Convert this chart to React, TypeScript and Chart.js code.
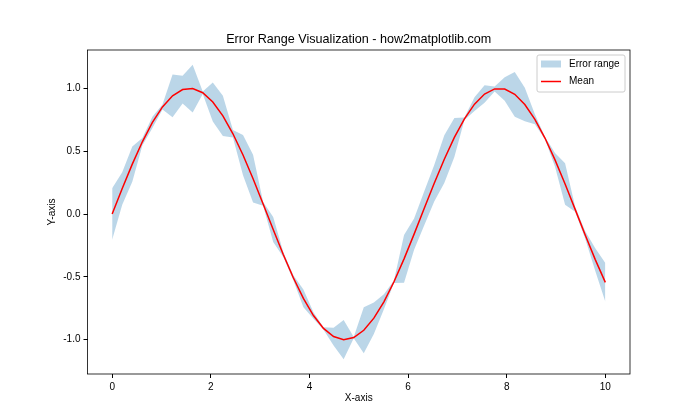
import React, { useEffect, useRef } from "react";
import { Chart, registerables } from "chart.js";

Chart.register(...registerables);

const xValues = [
  0, 0.2041, 0.4082, 0.6122, 0.8163, 1.0204, 1.2245, 1.4286, 1.6327, 1.8367,
  2.0408, 2.2449, 2.449, 2.6531, 2.8571, 3.0612, 3.2653, 3.4694, 3.6735, 3.8776,
  4.0816, 4.2857, 4.4898, 4.6939, 4.898, 5.102, 5.3061, 5.5102, 5.7143, 5.9184,
  6.1224, 6.3265, 6.5306, 6.7347, 6.9388, 7.1429, 7.3469, 7.551, 7.7551, 7.9592,
  8.1633, 8.3673, 8.5714, 8.7755, 8.9796, 9.1837, 9.3878, 9.5918, 9.7959, 10,
];

const meanValues = [
  0, 0.2027, 0.3969, 0.5747, 0.7286, 0.8523, 0.9406, 0.9899, 0.9981, 0.9649,
  0.8916, 0.7813, 0.6385, 0.4693, 0.2806, 0.0803, -0.1234, -0.322, -0.5072, -0.6714,
  -0.8076, -0.9103, -0.9753, -0.9998, -0.9828, -0.925, -0.8289, -0.6983, -0.5387, -0.3568,
  -0.16, 0.0433, 0.2449, 0.4363, 0.6096, 0.7576, 0.8742, 0.9545, 0.9951, 0.9945,
  0.9526, 0.8711, 0.7535, 0.6046, 0.4306, 0.2388, 0.037, -0.1663, -0.3627, -0.544,
];

const errorValues = [
  0.205, 0.13, 0.14, 0.03, 0.045, 0.02, 0.17, 0.11, 0.19, 0.01,
  0.155, 0.16, 0.03, 0.16, 0.19, 0.015, 0.1, 0.02, 0.02, 0.07,
  0.025, 0.01, 0.07, 0.156, 0.005, 0.183, 0.125, 0.06, 0.01, 0.19,
  0.125, 0.135, 0.145, 0.19, 0.155, 0.01, 0.055, 0.07, 0.02, 0.093,
  0.178, 0.133, 0.04, 0.01, 0.055, 0.166, 0.02, 0.03, 0.09, 0.155,
];

const xTicks = [0, 2, 4, 6, 8, 10];
const yTicks = [-1.0, -0.5, 0.0, 0.5, 1.0];

const titleText = "Error Range Visualization - how2matplotlib.com";
const xLabel = "X-axis";
const yLabel = "Y-axis";
const bandLabel = "Error range";
const meanLabel = "Mean";

const FONT = "'Liberation Sans', 'DejaVu Sans', sans-serif";
const BAND_COLOR = "rgba(31,119,180,0.3)";

export default function App() {
  const ref = useRef<HTMLCanvasElement | null>(null);

  useEffect(() => {
    if (!ref.current) return;
    const lower = xValues.map((x, i) => ({ x, y: meanValues[i] - errorValues[i] }));
    const upper = xValues.map((x, i) => ({ x, y: meanValues[i] + errorValues[i] }));
    const mean = xValues.map((x, i) => ({ x, y: meanValues[i] }));

    const decor = {
      id: "decor",
      afterDraw(chart: any) {
        const { ctx, chartArea } = chart;
        const { left, right, top, bottom } = chartArea;
        ctx.save();
        // frame
        ctx.strokeStyle = "#000";
        ctx.lineWidth = 0.8;
        ctx.strokeRect(left, top, right - left, bottom - top);
        // title
        ctx.fillStyle = "#000";
        ctx.font = `12.6px ${FONT}`;
        ctx.textAlign = "center";
        ctx.textBaseline = "middle";
        ctx.fillText(titleText, (left + right) / 2, 40);
        // legend
        const bw = 88;
        const bh = 37;
        const bx = right - 5 - bw;
        const by = top + 5;
        ctx.fillStyle = "rgba(255,255,255,0.8)";
        ctx.strokeStyle = "#cccccc";
        ctx.lineWidth = 1;
        ctx.beginPath();
        const r = 2;
        ctx.moveTo(bx + r, by);
        ctx.lineTo(bx + bw - r, by);
        ctx.quadraticCurveTo(bx + bw, by, bx + bw, by + r);
        ctx.lineTo(bx + bw, by + bh - r);
        ctx.quadraticCurveTo(bx + bw, by + bh, bx + bw - r, by + bh);
        ctx.lineTo(bx + r, by + bh);
        ctx.quadraticCurveTo(bx, by + bh, bx, by + bh - r);
        ctx.lineTo(bx, by + r);
        ctx.quadraticCurveTo(bx, by, bx + r, by);
        ctx.closePath();
        ctx.fill();
        ctx.stroke();
        ctx.fillStyle = BAND_COLOR;
        ctx.fillRect(bx + 4, by + 5.5, 20, 7);
        ctx.strokeStyle = "red";
        ctx.lineWidth = 1.5;
        ctx.beginPath();
        ctx.moveTo(bx + 4, by + 26.5);
        ctx.lineTo(bx + 24, by + 26.5);
        ctx.stroke();
        ctx.fillStyle = "#000";
        ctx.font = `10px ${FONT}`;
        ctx.textAlign = "left";
        ctx.textBaseline = "middle";
        ctx.fillText(bandLabel, bx + 32, by + 9);
        ctx.fillText(meanLabel, bx + 32, by + 26);
        ctx.restore();
      },
    };

    const axisFont = { family: FONT, size: 10 };

    const chart = new Chart(ref.current, {
      type: "line",
      data: {
        datasets: [
          {
            label: meanLabel,
            data: mean,
            borderColor: "red",
            borderWidth: 1.5,
            pointRadius: 0,
            fill: false,
            tension: 0,
          },
          {
            label: "lower",
            data: lower,
            borderWidth: 0,
            borderColor: "rgba(0,0,0,0)",
            pointRadius: 0,
            fill: false,
            tension: 0,
          },
          {
            label: bandLabel,
            data: upper,
            borderWidth: 0,
            borderColor: "rgba(0,0,0,0)",
            backgroundColor: BAND_COLOR,
            pointRadius: 0,
            fill: "-1",
            tension: 0,
          },
        ],
      },
      options: {
        animation: false,
        responsive: false,
        maintainAspectRatio: false,
        events: [],
        layout: { padding: { left: 0, right: 70, top: 50, bottom: 0 } },
        plugins: {
          legend: { display: false },
          title: { display: false },
          tooltip: { enabled: false },
        },
        scales: {
          x: {
            type: "linear",
            min: -0.5,
            max: 10.5,
            afterBuildTicks: (s: any) => {
              s.ticks = xTicks.map((v) => ({ value: v }));
            },
            afterFit: (s: any) => {
              s.height = 46;
            },
            grid: {
              display: true,
              drawOnChartArea: false,
              drawTicks: true,
              tickLength: 4,
              color: "#000",
              tickColor: "#000",
            },
            border: { display: false },
            ticks: {
              color: "#000",
              font: axisFont,
              padding: 3,
              maxRotation: 0,
              autoSkip: false,
              callback: (v: any) => String(v),
            },
            title: {
              display: true,
              text: xLabel,
              color: "#000",
              font: axisFont,
              padding: { top: 0, bottom: 16 },
            },
          },
          y: {
            type: "linear",
            min: -1.273,
            max: 1.305,
            afterBuildTicks: (s: any) => {
              s.ticks = yTicks.map((v) => ({ value: v }));
            },
            afterFit: (s: any) => {
              s.width = 87.5;
            },
            grid: {
              display: true,
              drawOnChartArea: false,
              drawTicks: true,
              tickLength: 4,
              color: "#000",
              tickColor: "#000",
            },
            border: { display: false },
            ticks: {
              color: "#000",
              font: axisFont,
              padding: 3,
              autoSkip: false,
              callback: (v: any) => Number(v).toFixed(1),
            },
            title: {
              display: true,
              text: yLabel,
              color: "#000",
              font: axisFont,
              padding: { top: 46, bottom: 0 },
            },
          },
        },
      },
      plugins: [decor],
    });

    return () => chart.destroy();
  }, []);

  return (
    <div
      style={{
        position: "fixed",
        left: 0,
        top: 0,
        width: 700,
        height: 420,
        background: "#fff",
      }}
    >
      <canvas
        ref={ref}
        width={700}
        height={420}
        style={{ width: 700, height: 420, display: "block" }}
      />
    </div>
  );
}
